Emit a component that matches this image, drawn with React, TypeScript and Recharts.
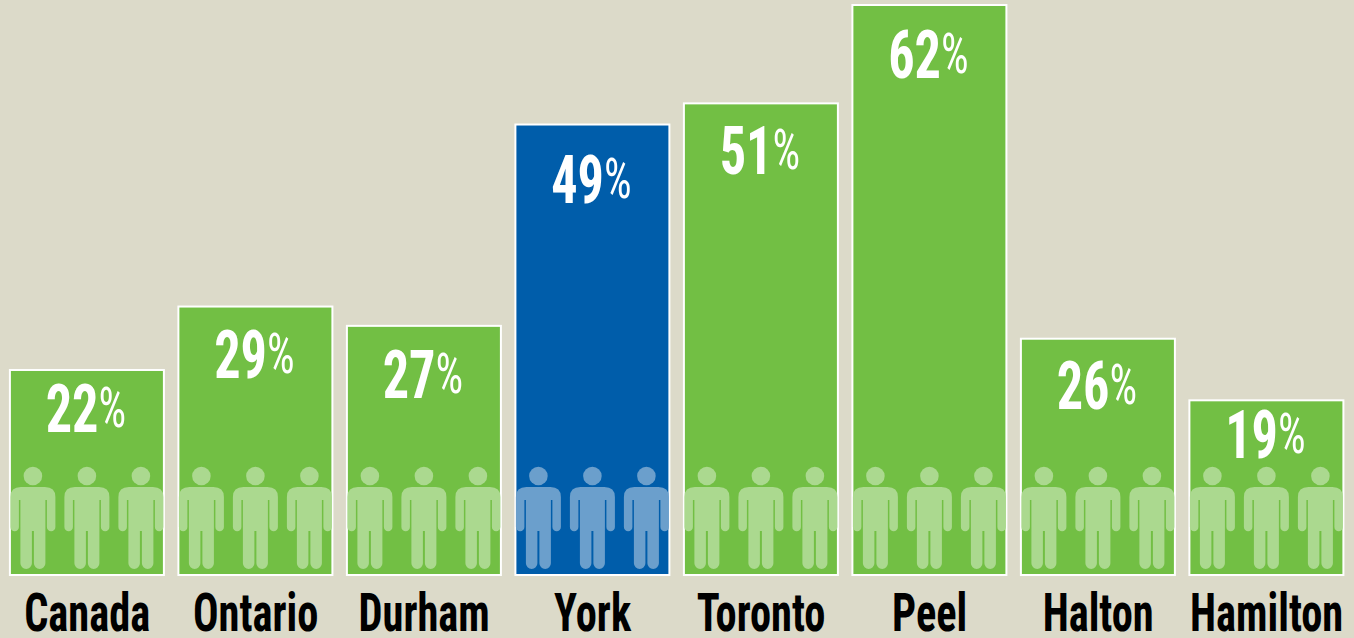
import React from "react";
import { BarChart, Bar, XAxis, YAxis, LabelList } from "recharts";

const regions = ["Canada", "Ontario", "Durham", "York", "Toronto", "Peel", "Halton", "Hamilton"];
const barHeights = [22.3, 29.2, 27.1, 49, 51.3, 62, 25.7, 19];
const percentLabels = [22, 29, 27, 49, 51, 62, 26, 19];
const highlighted = ["York"];

const rows = regions.map((region, i) => ({ region, height: barHeights[i], pct: percentLabels[i] }));

const BG = "#DCDAC9";
const GREEN = "#72BF44";
const BLUE = "#005DAA";
const GREEN_ICON = "#ABD98F";
const BLUE_ICON = "#6B9FCC";
const FONT = "'Liberation Sans Narrow', 'Roboto Condensed', 'Liberation Sans', sans-serif";

// gap from a bar's top edge to its label's baseline, as in the reference layout
const labelDrop: Record<string, number> = {
  Canada: 62, Ontario: 71, Durham: 72, York: 78, Toronto: 71, Peel: 73, Halton: 70, Hamilton: 58,
};

const PERSON =
  "M-12 0H12Q22.5 0 22.5 10V40A4.25 4.25 0 0 1 14 40V13H12.5V76.3A5.7 5.7 0 0 1 1 76.3V44H-1V76.3A5.7 5.7 0 0 1 -12.5 76.3V13H-14V40A4.25 4.25 0 0 1 -22.5 40V10Q-22.5 0 -12 0Z";

function PeopleBar(props: any) {
  const { x, y, width, height, payload } = props;
  const hot = highlighted.includes(payload.region);
  const cx = x + width / 2;
  const base = y + height;
  return (
    <g>
      <rect x={x} y={y} width={width} height={height} fill={hot ? BLUE : GREEN} stroke="#fff" strokeWidth={2} />
      {[-54, 0, 54].map((dx) => (
        <g key={dx} transform={`translate(${cx + dx},${base - 88})`} fill={hot ? BLUE_ICON : GREEN_ICON}>
          <circle cx={0} cy={-11} r={9.3} />
          <path d={PERSON} />
        </g>
      ))}
    </g>
  );
}

function PctLabel(props: any) {
  const { x, y, width, index } = props;
  const row = rows[index];
  const cx = x + width / 2 - 1;
  const by = y + labelDrop[row.region];
  return (
    <g transform={`translate(${cx},${by}) scale(0.78,1)`}>
      <text x={0} y={0} textAnchor="middle" fill="#fff" fontFamily={FONT}>
        <tspan fontSize={67} fontWeight={700}>{row.pct}</tspan>
        <tspan fontSize={56} fontWeight={400} dy={-5}>%</tspan>
      </text>
    </g>
  );
}

function RegionTick(props: any) {
  const { x, payload } = props;
  return (
    <g transform={`translate(${x},631) scale(0.8,1)`}>
      <text x={0} y={0} textAnchor="middle" fill="#000" fontFamily={FONT} fontSize={53} fontWeight={700}>
        {payload.value}
      </text>
    </g>
  );
}

export default function App() {
  return (
    <div style={{ position: "absolute", left: 0, top: 0, width: 1354, height: 638, background: BG, overflow: "hidden" }}>
      <BarChart
        width={1354}
        height={638}
        data={rows}
        margin={{ top: 5, right: 3.1, bottom: 0, left: 2.9 }}
        barSize={154}
      >
        <XAxis dataKey="region" height={63} axisLine={false} tickLine={false} interval={0} tick={<RegionTick />} />
        <YAxis hide domain={[0, 62]} />
        <Bar dataKey="height" shape={<PeopleBar />} isAnimationActive={false}>
          <LabelList dataKey="pct" content={<PctLabel />} />
        </Bar>
      </BarChart>
    </div>
  );
}
